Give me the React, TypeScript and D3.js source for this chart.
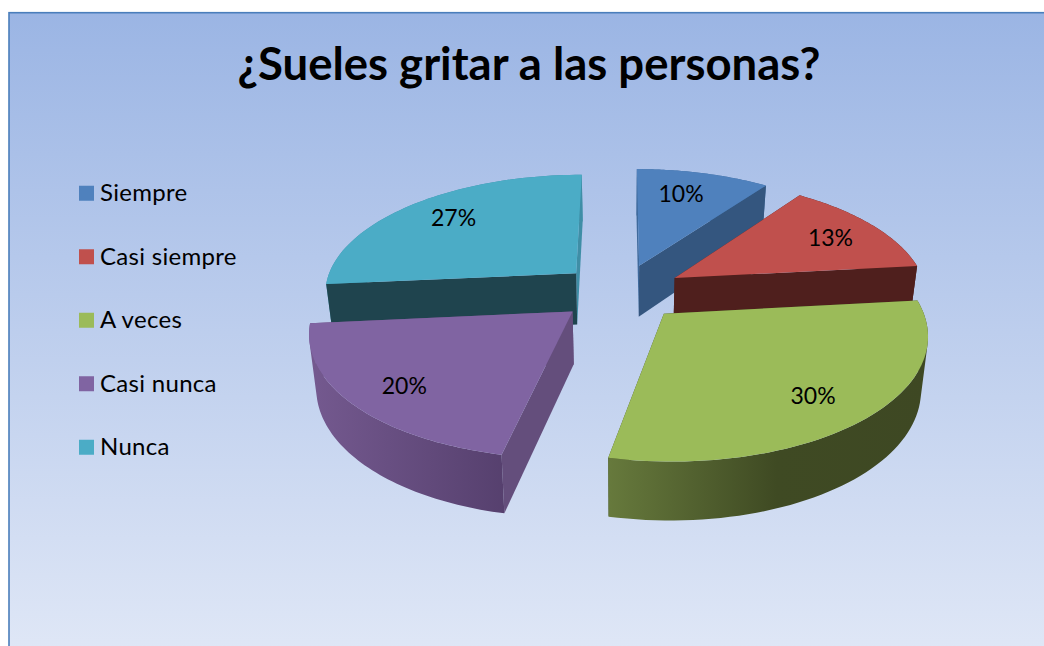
import React from "react";
import * as d3 from "d3";

const title = "¿Sueles gritar a las personas?";
const categories = ["Siempre", "Casi siempre", "A veces", "Casi nunca", "Nunca"];
const percentages = [10, 13.3, 30, 20.2, 26.5];
const topColors = ["#4f81bd", "#c0504d", "#9bbb59", "#8064a2", "#4bacc6"];
const frontWallColors = ["#34567f", "#4f1f1d", "#3f4a23", "#644e7c", "#1f444e"];
const backWallColors = ["#3f6a9c", "#4f1f1d", "#3f4a23", "#644e7c", "#3f8ea6"];
const outerWallColors = ["#3f6a9c", "#4f1f1d", "url(#wall2)", "url(#wall3)", "#3f8ea6"];

// Perspective pie model, in units of the pie's radius
const CX = 622, CY = 292;
const SCALE_X = 253, SCALE_Y = 118.5, PERSPECTIVE = 0.15;
const EXPLODE = 0.24, DEPTH = 52, DEPTH_PERSPECTIVE = 0.1, CONVERGE = 0.977;
const LABEL_RADIUS = [0.72, 0.78, 0.77, 0.79, 0.75];
const LABEL_SHIFT_X = [-6, 0, -2, 2, 2];
const LABEL_SHIFT_Y = [-2, 3, 5, 4, -1];
const SLICE_SHIFT_X = [-1, 1, 0, -3, -2];

type Pt = [number, number];
const W = 1044, H = 646;

function project(i: number, mid: number, a: number, r: number): Pt {
  const u = EXPLODE * Math.sin(mid) + r * Math.sin(a);
  const v = EXPLODE * Math.cos(mid) + r * Math.cos(a);
  const k = 1 + PERSPECTIVE * v;
  return [CX + SLICE_SHIFT_X[i] + (SCALE_X * u) / k, CY - (SCALE_Y * v) / k];
}
function lower(i: number, mid: number, a: number, r: number): Pt {
  const [x, y] = project(i, mid, a, r);
  const v = EXPLODE * Math.cos(mid) + r * Math.cos(a);
  return [CX + (x - CX) * CONVERGE, y + DEPTH / (1 + DEPTH_PERSPECTIVE * v)];
}

const line = d3.line<Pt>().x((d) => d[0]).y((d) => d[1]);
const closed = (pts: Pt[]) => line(pts) + "Z";
// All quads wound the same way, so overlaps never cancel under the nonzero rule
const wound = (pts: Pt[]) => (d3.polygonArea(pts) < 0 ? [...pts].reverse() : pts);

const arcs = d3.pie<number>().sort(null)(percentages);
const legendY = d3.scaleBand<string>().domain(categories).range([161.5, 479]).paddingInner(0).align(0.5);

export default function App() {
  const slices = arcs.map((arc, i) => {
    const mid = (arc.startAngle + arc.endAngle) / 2;
    const angles = d3.range(0, 61).map((k) => arc.startAngle + ((arc.endAngle - arc.startAngle) * k) / 60);
    const topArc = angles.map((a) => project(i, mid, a, 1));
    const lowArc = angles.map((a) => lower(i, mid, a, 1));
    const apexT = project(i, mid, 0, 0);
    const apexB = lower(i, mid, 0, 0);
    const wall = (a: number): Pt[] => [apexT, project(i, mid, a, 1), lower(i, mid, a, 1), apexB];
    // the wall farther back is painted first
    const walls = [arc.startAngle, arc.endAngle].sort((p, q) => Math.cos(q) - Math.cos(p));
    const outer = d3
      .range(0, 60)
      .map((k) => closed(wound([topArc[k], topArc[k + 1], lowArc[k + 1], lowArc[k]])))
      .join("");
    return {
      i,
      mid,
      top: [apexT, ...topArc] as Pt[],
      outer,
      isBack: Math.cos(mid) > 0,
      walls: walls.map(wall),
      label: project(i, mid, mid, LABEL_RADIUS[i]),
    };
  });
  const order = [0, 4, 1, 3, 2];

  return (
    <svg
      width={W}
      height={H}
      viewBox={`0 0 ${W} ${H}`}
      style={{ position: "fixed", left: 0, top: 0, display: "block", background: "#fff" }}
    >
      <defs>
        <linearGradient id="bg" x1="0" x2="0" y1="0" y2="1">
          <stop offset="0" stopColor="#9bb5e4" />
          <stop offset="1" stopColor="#e2e9f7" />
        </linearGradient>
        <linearGradient id="wall2" gradientUnits="userSpaceOnUse" x1="610" x2="930" y1="0" y2="0">
          <stop offset="0" stopColor="#66793c" />
          <stop offset="0.52" stopColor="#3f4a23" />
          <stop offset="1" stopColor="#3e4823" />
        </linearGradient>
        <linearGradient id="wall3" gradientUnits="userSpaceOnUse" x1="312" x2="505" y1="0" y2="0">
          <stop offset="0" stopColor="#74598f" />
          <stop offset="1" stopColor="#56406e" />
        </linearGradient>
      </defs>
      <rect x={9} y={12.7} width={W + 20} height={H + 20} fill="url(#bg)" stroke="#4a7ebb" strokeWidth={1.6} />
      <text
        x={529}
        y={79.5}
        textAnchor="middle"
        fontFamily="Lato"
        fontWeight={700}
        fontSize={45.5}
        fill="#000"
      >
        {title}
      </text>
      {categories.map((c, i) => (
        <g key={c}>
          <rect
            x={79}
            y={(legendY(c) as number) + legendY.bandwidth() / 2 - 7.5}
            width={15}
            height={15}
            fill={topColors[i]}
          />
          <text
            x={100}
            y={(legendY(c) as number) + legendY.bandwidth() / 2 + 8}
            fontFamily="Lato"
            fontSize={24}
            letterSpacing={0.3}
            fill="#000"
          >
            {c}
          </text>
        </g>
      ))}
      {order.map((i) => {
        const s = slices[i];
        const outer = <path d={s.outer} fill={outerWallColors[i]} />;
        return (
          <g key={i}>
            {s.isBack && outer}
            <path d={closed(s.walls[0])} fill={backWallColors[i]} />
            <path d={closed(s.walls[1])} fill={frontWallColors[i]} />
            {!s.isBack && outer}
            <path d={closed(s.top)} fill={topColors[i]} />
          </g>
        );
      })}
      {slices.map((s) => (
        <text
          key={s.i}
          x={s.label[0] + LABEL_SHIFT_X[s.i]}
          y={s.label[1] + 7 + LABEL_SHIFT_Y[s.i]}
          textAnchor="middle"
          fontFamily="Lato"
          fontSize={23}
          fill="#000"
        >
          {Math.round(percentages[s.i])}%
        </text>
      ))}
    </svg>
  );
}
